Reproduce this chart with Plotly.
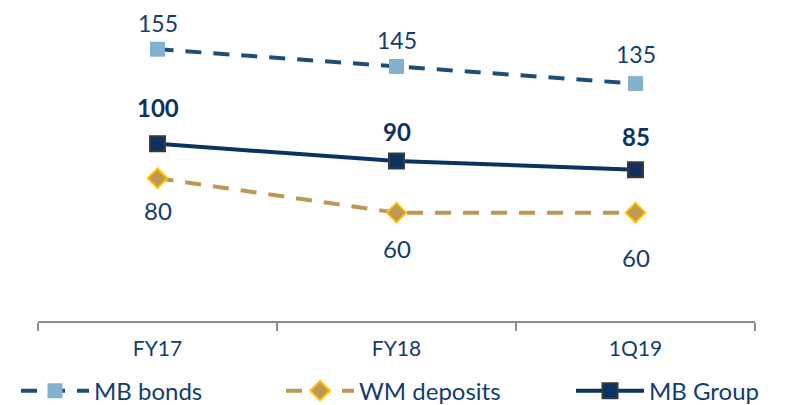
import plotly.graph_objects as go

categories = ["FY17", "FY18", "1Q19"]
mb_bonds = [155, 145, 135]
wm_deposits = [80, 60, 60]
mb_group = [100, 90, 85]

navy = "#0B3263"
label_col = "#123D6E"
font_family = "Lato, 'Open Sans', sans-serif"

W, H = 778, 397  # page adds an 8px body margin

fig = go.Figure()

fig.add_trace(go.Scatter(
    x=categories, y=mb_bonds, name="MB bonds", mode="lines+markers", legend="legend",
    line=dict(color="#1C4E78", width=4, dash="16px,12px"),
    marker=dict(symbol="square", size=15, color="#85B1D1", line=dict(width=0)),
))
fig.add_trace(go.Scatter(
    x=categories, y=wm_deposits, name="WM deposits", mode="lines+markers", legend="legend2",
    line=dict(color="#BF9755", width=4, dash="16px,12px"),
    marker=dict(symbol="diamond", size=15, color="#BF9755", line=dict(width=2, color="#FFC000")),
))
fig.add_trace(go.Scatter(
    x=categories, y=mb_group, name="MB Group", mode="lines+markers", legend="legend3",
    line=dict(color=navy, width=4),
    marker=dict(symbol="square", size=15, color=navy, line=dict(width=2, color="#3A3A3A")),
))

# data labels
bond_shift = [26, 26, 30]
dep_shift = [-32, -36, -45]
grp_shift = [36, 30, 33]
for i, c in enumerate(categories):
    fig.add_annotation(x=c, y=mb_bonds[i], text=str(mb_bonds[i]), showarrow=False,
                       yshift=bond_shift[i], font=dict(size=23, color=label_col, family=font_family))
    fig.add_annotation(x=c, y=wm_deposits[i], text=str(wm_deposits[i]), showarrow=False,
                       yshift=dep_shift[i], font=dict(size=24, color=label_col, family=font_family))
    fig.add_annotation(x=c, y=mb_group[i], text="<b>%d</b>" % mb_group[i], showarrow=False,
                       yshift=grp_shift[i], font=dict(size=24, color=navy, family=font_family))

def leg(xpix):
    return dict(orientation="h", xref="container", yref="container",
                x=xpix / W, xanchor="left", y=0.035, yanchor="middle",
                font=dict(size=24, color=label_col, family=font_family),
                itemwidth=68, bgcolor="rgba(0,0,0,0)")

fig.update_layout(
    width=W, height=H,
    margin=dict(l=30, r=31, t=2, b=84, autoexpand=False),
    plot_bgcolor="white", paper_bgcolor="white",
    font=dict(family=font_family, color=label_col),
    showlegend=True,
    legend=leg(8), legend2=leg(273), legend3=leg(563),
    xaxis=dict(type="category", range=[-0.5, 2.5], showgrid=False,
               showline=True, linecolor="#8C8C8C", linewidth=1.5,
               ticks="outside", tickson="boundaries", ticklen=8, tickcolor="#8C8C8C", tickwidth=1.5,
               ticklabelstandoff=8,
               tickfont=dict(size=21, color=label_col, family=font_family)),
    yaxis=dict(range=[-3, 177.8], visible=False, showgrid=False, zeroline=False),
)

fig.write_html("out.html")
